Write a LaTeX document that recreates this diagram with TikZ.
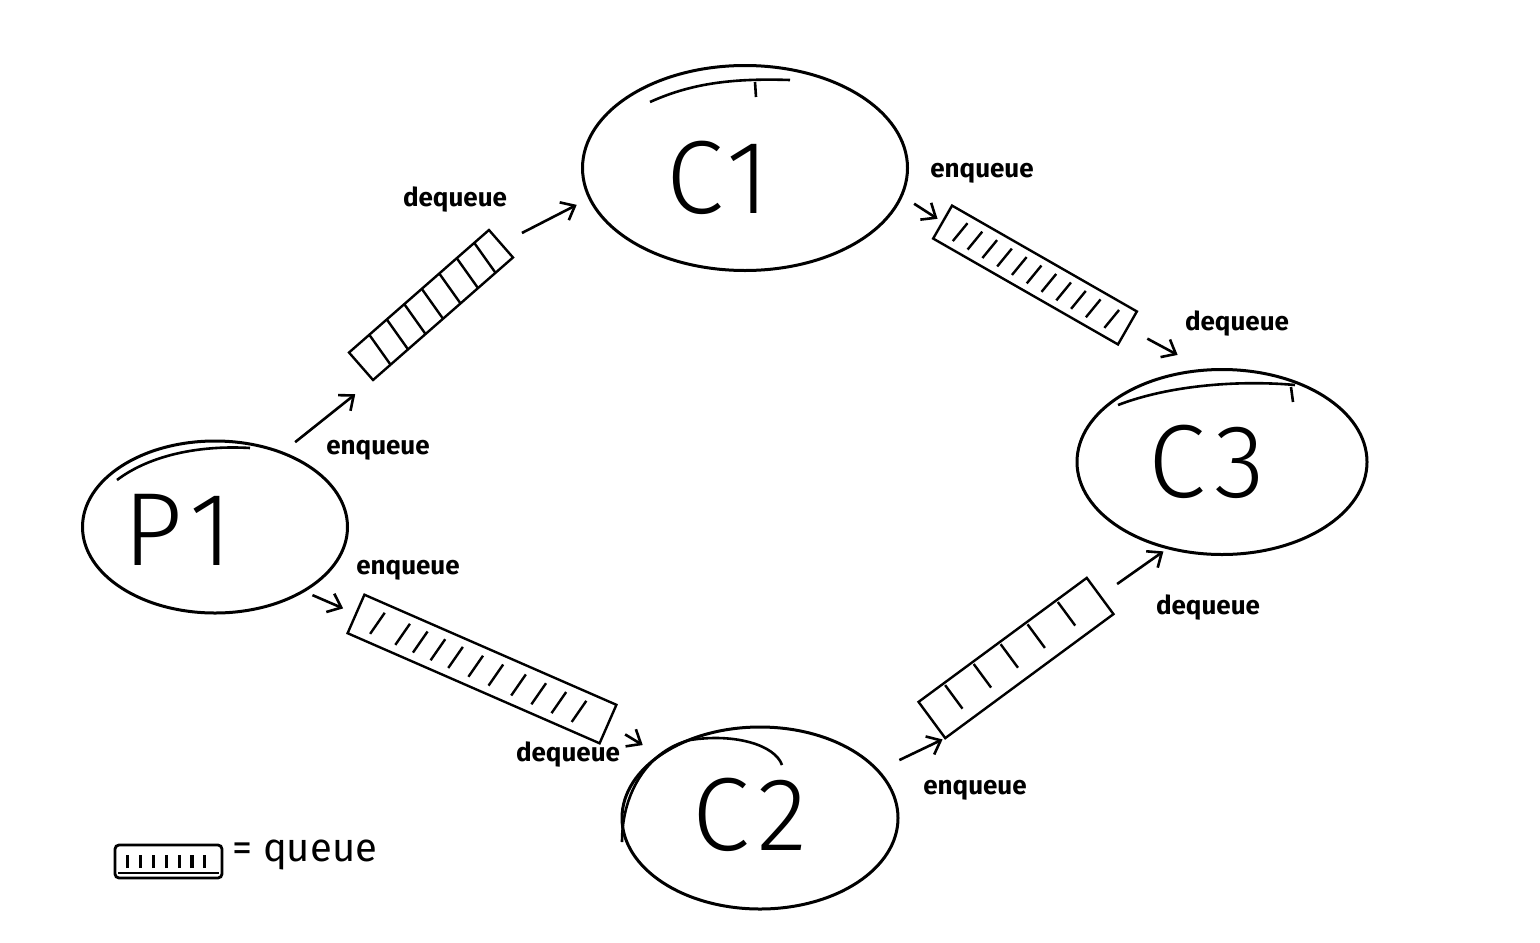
\documentclass[tikz,border=0pt]{standalone}
\usepackage{fontspec}
\setmainfont{Fira Sans}
\newfontfamily\thinfont{Fira Sans}[UprightFont={* Light}, LetterSpace=8]
\usetikzlibrary{arrows.meta,calc,shapes.geometric}
\begin{document}
\begin{tikzpicture}[x=0.5pt,y=-0.5pt,
  ell/.style={draw, ellipse, line width=1.5pt, inner sep=0pt, outer sep=0pt},
  big/.style={font=\thinfont\fontsize{52}{52}\selectfont, inner sep=0pt},
  lbl/.style={font=\bfseries\fontsize{13}{13}\selectfont, inner sep=1pt},
  queue/.style={draw, line width=1.2pt, inner sep=0pt, outer sep=0pt, rectangle},
  arr/.style={line width=1.3pt, -{Straight Barb[length=6pt,width=10pt,line width=1.3pt]}},
  sk/.style={line width=1.3pt},
  hatch/.style={line width=1.2pt}]
\useasboundingbox (0,0) rectangle (1540,942);
\fill[white] (0,0) rectangle (1540,942);

% processes / consumers
\node[ell, minimum width=132.5pt, minimum height=86pt] (P1) at (215,527) {};
\node[ell, minimum width=162.5pt, minimum height=102.5pt] (C1) at (745,168) {};
\node[ell, minimum width=145pt, minimum height=92.5pt] (C3) at (1222,462) {};
\node[ell, minimum width=138pt, minimum height=91pt] (C2) at (760,818) {};

\node[big] (P1t) at (178,530) {P1};
\node[big] (C1t) at (718,178) {C1};
\node[big] (C3t) at (1207,462) {C3};
\node[big] (C2t) at (750,815) {C2};

% sketchy double strokes
\draw[sk] (117,480) .. controls (150,455) and (200,445) .. (250,448);
\draw[sk] (650,102) .. controls (690,84) and (730,78) .. (790,80);
\draw[sk] (755,82) -- (756,97);
\draw[sk] (1118,405) .. controls (1170,385) and (1240,380) .. (1295,385);
\draw[sk] (1291,387) -- (1293,402);
\draw[sk] (622,842) .. controls (622,790) and (650,750) .. (690,740) .. controls (735,733) and (775,745) .. (782,765);

% queues
\node[queue, minimum width=93pt, minimum height=18.25pt, rotate=41.2] (Q1) at (431,305) {};
\node[queue, minimum width=106.5pt, minimum height=19pt, rotate=-29.8] (Q2) at (1035,275) {};
\node[queue, minimum width=137.5pt, minimum height=21pt, rotate=-23.6] (Q3) at (482,669) {};
\node[queue, minimum width=104.5pt, minimum height=22.5pt, rotate=36.4] (Q4) at (1016,658) {};

% hatching
\foreach \f in {0.125,0.25,0.375,0.5,0.625,0.75,0.875}{
  \draw[hatch] ($(Q1.south west)!\f!(Q1.south east)$) -- ($(Q1.north west)!\f+0.02!(Q1.north east)$);
}
\foreach \f in {0.08,0.16,0.24,0.32,0.40,0.48,0.56,0.64,0.72,0.80,0.90}{
  \path ($(Q2.south west)!\f!(Q2.south east)$) coordinate (ha)
        ($(Q2.north west)!\f+0.03!(Q2.north east)$) coordinate (hb);
  \draw[hatch] ($(ha)!0.2!(hb)$) -- ($(ha)!0.8!(hb)$);
}
\foreach \f in {0.07,0.17,0.24,0.31,0.38,0.46,0.54,0.63,0.71,0.79,0.87}{
  \path ($(Q3.south west)!\f!(Q3.south east)$) coordinate (ha)
        ($(Q3.north west)!\f+0.03!(Q3.north east)$) coordinate (hb);
  \draw[hatch] ($(ha)!0.2!(hb)$) -- ($(ha)!0.8!(hb)$);
}
\foreach \f in {0.15,0.32,0.48,0.64,0.82}{
  \path ($(Q4.south west)!\f!(Q4.south east)$) coordinate (ha)
        ($(Q4.north west)!\f!(Q4.north east)$) coordinate (hb);
  \draw[hatch] ($(ha)!0.3!(hb)$) -- ($(ha)!0.95!(hb)$);
}

% connectors
\draw[arr, shorten <=8.5pt, shorten >=11.4pt] (P1.48) -- (Q1.south west);
\draw[arr, shorten <=11.8pt, shorten >=7.3pt] (Q1.east) -- (C1.191);
\draw[arr, shorten <=7.5pt, shorten >=3pt] (C1.-10) -- (Q2.west);
\draw[arr, shorten <=11.3pt, shorten >=16pt] (Q2.east) -- (C3.100);
\draw[arr, shorten <=5pt, shorten >=7pt] (P1.-36) -- (Q3.west);
\draw[arr, shorten <=10pt, shorten >=10pt] (Q3.east) -- (C2.148);
\draw[arr, shorten <=12pt, shorten >=1.5pt] (C2.22) -- (Q4.south west);
\draw[arr, shorten <=10.4pt, shorten >=3pt] (Q4.east) -- (C3.238);

% labels
\node[lbl] (L1) at (378,450) {enqueue};
\node[lbl] (L2) at (455,200) {dequeue};
\node[lbl] (L3) at (982,173) {enqueue};
\node[lbl] (L4) at (1237,324) {dequeue};
\node[lbl] (L5) at (408,570) {enqueue};
\node[lbl] (L6) at (568,755) {dequeue};
\node[lbl] (L7) at (975,790) {enqueue};
\node[lbl] (L8) at (1208,608) {dequeue};

% legend
\node[queue, rounded corners=2pt, line width=1.4pt, minimum width=53.5pt, minimum height=16.5pt] (LQ) at (168.5,861.5) {};
\draw[hatch] ($(LQ.south west)+(3,-5)$) -- ($(LQ.south east)+(-3,-5)$);
\foreach \f in {0.12,0.24,0.36,0.48,0.60,0.72,0.84}{
  \path ($(LQ.south west)!\f!(LQ.south east)$) coordinate (la)
        ($(LQ.north west)!\f!(LQ.north east)$) coordinate (lb);
  \draw[line width=1.6pt] ($(la)!0.3!(lb)$) -- ($(la)!0.7!(lb)$);
}
\node[anchor=west, font=\fontsize{20}{20}\selectfont, inner sep=0pt] (LT) at (232,855) {= queue};
\end{tikzpicture}
\end{document}
